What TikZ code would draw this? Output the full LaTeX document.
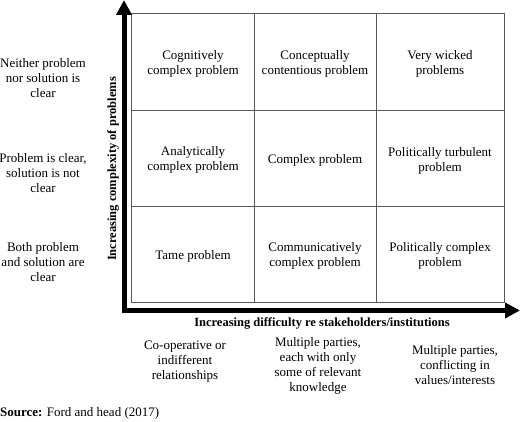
\documentclass[tikz,border=0pt]{standalone}
\usepackage{fontspec}
\setmainfont{Liberation Serif}
\usetikzlibrary{arrows.meta}
\begin{document}
\begin{tikzpicture}[x=1pt,y=-1pt,
  lbl/.style={align=center,font=\fontsize{13}{15}\selectfont,inner sep=0pt},
  ttl/.style={font=\fontsize{12.5}{15}\selectfont\bfseries,inner sep=0pt},
  axis/.style={line width=5pt,line join=miter,
    {Triangle[width=15pt,length=15pt]}-{Triangle[width=15pt,length=15pt]}}]
  \useasboundingbox (0,0) rectangle (520,422);
  % grid of problem types
  \draw[black!65,line width=1pt] (131,14) rectangle (504,303);
  \draw[black!65,line width=1pt] (254.5,14)--(254.5,303) (376,14)--(376,303);
  \draw[black!65,line width=1pt] (131,111)--(504,111) (131,207)--(504,207);
  % axes
  \coordinate (ytip) at (124,0);
  \coordinate (origin) at (124,310.5);
  \coordinate (xtip) at (520,310.5);
  \draw[axis] (ytip)--(origin)--(xtip);
  % cells
  \node[lbl] (cog) at (193,64) {Cognitively\\complex problem};
  \node[lbl] (con) at (315,64) {Conceptually\\contentious problem};
  \node[lbl] (wic) at (440,64) {Very wicked\\problems};
  \node[lbl] (ana) at (193,160) {Analytically\\complex problem};
  \node[lbl] (cpx) at (315,160) {Complex problem};
  \node[lbl] (tur) at (440,161) {Politically turbulent\\problem};
  \node[lbl] (tam) at (193,256) {Tame problem};
  \node[lbl] (com) at (315,256) {Communicatively\\complex problem};
  \node[lbl] (pol) at (440,256) {Politically complex\\problem};
  % row labels
  \node[lbl] (neither) at (43,78) {Neither problem\\nor solution is\\clear};
  \node[lbl] (clearp) at (43,173) {Problem is clear,\\solution is not\\clear};
  \node[lbl] (both) at (43,262) {Both problem\\and solution are\\clear};
  % column labels
  \node[lbl] (coop) at (185,362) {Co-operative or\\indifferent\\relationships};
  \node[lbl] (multi) at (318,366) {Multiple parties,\\each with only\\some of relevant\\knowledge};
  \node[lbl] (confl) at (455,365) {Multiple parties,\\conflicting in\\values/interests};
  % axis titles
  \node[ttl,rotate=90] (ytitle) at (113,169) {Increasing complexity of problems};
  \node[ttl] (xtitle) at (322,323) {Increasing difficulty re stakeholders/institutions};
  \node[lbl,anchor=west] (src) at (0,413) {\textbf{Source:} Ford and head (2017)};
\end{tikzpicture}
\end{document}
